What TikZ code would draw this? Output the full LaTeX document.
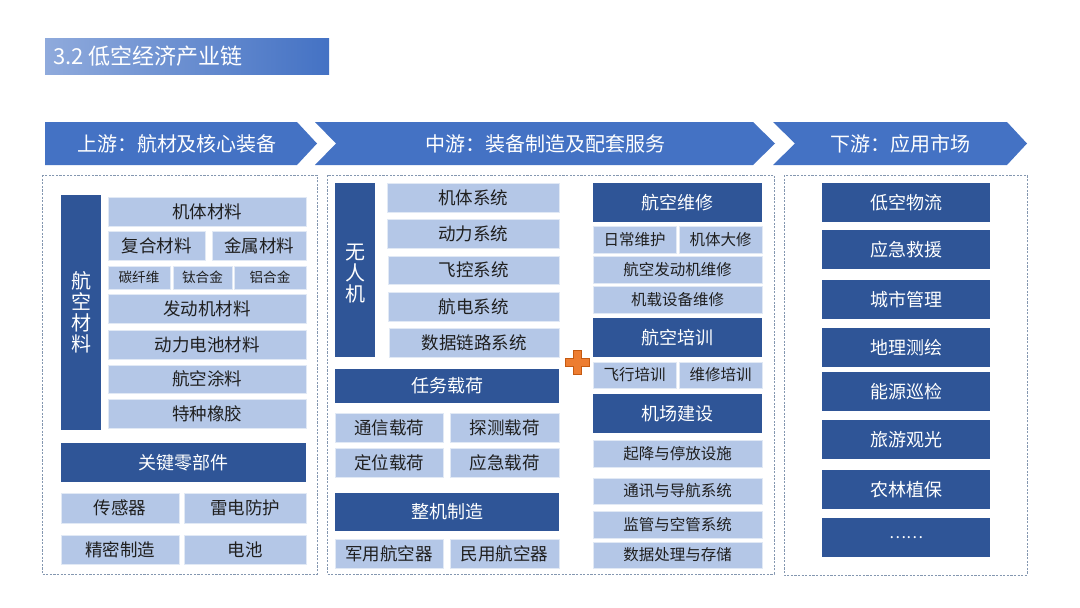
\documentclass[tikz,border=0pt]{standalone}
\usepackage{fontspec}
\setmainfont{Noto Sans CJK SC}
\definecolor{chev}{HTML}{4472C4}
\definecolor{dk}{HTML}{2F5597}
\definecolor{lt}{HTML}{B4C7E7}
\definecolor{dashc}{HTML}{8497B0}
\definecolor{org}{HTML}{ED7D31}
\definecolor{orgd}{HTML}{C55A11}
\definecolor{tl}{HTML}{8FAADC}
\definecolor{tr}{HTML}{4472C4}
\newcommand\bx[7]{\node[#6, minimum width={#4-#2}, minimum height={#5-#3}] (#1) at ({(#2+#4)/2},{(#3+#5)/2}) {#7};}
\tikzset{
  basebox/.style={inner sep=0pt, outer sep=0pt, rectangle},
  dkbox/.style={basebox, fill=dk, text=white, font=\fontsize{18}{20}\selectfont},
  ltbox/.style={basebox, fill=lt, draw=white!60!lt, line width=0.6pt, text=black!88, font=\fontsize{17.5}{20}\selectfont},
  ltsm/.style={ltbox, font=\fontsize{15.5}{18}\selectfont},
  ltxs/.style={ltbox, font=\fontsize{13.6}{16}\selectfont},
  chevshape/.style={fill=chev},
  chevtext/.style={text=white, font=\fontsize{20}{22}\selectfont, inner sep=0pt},
  dashbox/.style={draw=dashc, line width=0.8pt, dash pattern=on 2.2pt off 1.4pt},
  vtext/.style={text=white, align=center, inner sep=0pt, font=\fontsize{20}{21}\selectfont},
}
\begin{document}
\begin{tikzpicture}[x=1pt,y=-1pt]
\useasboundingbox[fill=white] (0,0) rectangle (1080,608);

% title
\shade[left color=tl, right color=tr] (45,38) rectangle (329,74);
\node[anchor=west, text=white, inner sep=0pt, font=\fontsize{22}{24}\selectfont] (title) at (53,56) {3.2 低空经济产业链};

% chevrons
\fill[chevshape] (45,122) -- (297,122) -- (317,143.5) -- (297,165) -- (45,165) -- cycle;
\fill[chevshape] (315,122) -- (753,122) -- (775,143.5) -- (753,165) -- (315,165) -- (336,143.5) -- cycle;
\fill[chevshape] (773,122) -- (1007,122) -- (1027,143.5) -- (1007,165) -- (773,165) -- (795,143.5) -- cycle;
\node[chevtext] (up) at (177,143.5) {上游：航材及核心装备};
\node[chevtext] (mid) at (545,143.5) {中游：装备制造及配套服务};
\node[chevtext] (down) at (900,143.5) {下游：应用市场};

% dashed frames
\draw[dashbox] (42,175) rectangle (317,574);
\draw[dashbox] (327,175) rectangle (774,574);
\draw[dashbox] (784,175) rectangle (1027,575);

% ---------- upstream ----------
\bx{hkcl}{61}{195}{101}{430}{basebox, fill=dk}{}
\node[vtext] (hkcltext) at (81,312.5) {航\\空\\材\\料};
\bx{jtcl}{108}{197}{306}{226}{ltbox}{机体材料}
\bx{fhcl}{108}{231}{205}{260}{ltbox}{复合材料}
\bx{jscl}{212}{231}{306}{260}{ltbox}{金属材料}
\bx{txw}{108}{266}{170}{289}{ltxs}{碳纤维}
\bx{thj}{173}{266}{232}{289}{ltxs}{钛合金}
\bx{lhj}{234}{266}{306}{289}{ltxs}{铝合金}
\bx{fdjcl}{108}{294}{306}{323}{ltbox}{发动机材料}
\bx{dldc}{108}{330}{306}{359}{ltbox}{动力电池材料}
\bx{hktl}{108}{365}{306}{393}{ltbox}{航空涂料}
\bx{tzxj}{108}{399}{306}{428}{ltbox}{特种橡胶}
\bx{gjlbj}{61}{443}{306}{482}{dkbox}{关键零部件}
\bx{cgq}{61}{493}{179}{523}{ltbox}{传感器}
\bx{ldfh}{184}{493}{306}{523}{ltbox}{雷电防护}
\bx{jmzz}{61}{535}{179}{564}{ltbox}{精密制造}
\bx{dc}{184}{535}{306}{564}{ltbox}{电池}

% ---------- midstream left ----------
\bx{wrj}{335}{183}{375}{357}{basebox, fill=dk}{}
\node[vtext] (wrjtext) at (355,274) {无\\人\\机};
\bx{jtxt}{387}{183}{559}{212}{ltbox}{机体系统}
\bx{dlxt}{387}{219}{559}{248}{ltbox}{动力系统}
\bx{fkxt}{388}{256}{559}{284}{ltbox}{飞控系统}
\bx{hdxt}{388}{292}{559}{321}{ltbox}{航电系统}
\bx{sjll}{389}{328}{559}{357}{ltbox}{数据链路系统}
\bx{rwzh}{335}{369}{559}{403}{dkbox}{任务载荷}
\bx{txzh}{335}{413}{443}{442}{ltbox}{通信载荷}
\bx{tczh}{450}{413}{559}{442}{ltbox}{探测载荷}
\bx{dwzh}{335}{448}{443}{477}{ltbox}{定位载荷}
\bx{yjzh}{450}{448}{559}{477}{ltbox}{应急载荷}
\bx{zjzz}{335}{493}{559}{531}{dkbox}{整机制造}
\bx{jyhk}{335}{539}{443}{568}{ltbox}{军用航空器}
\bx{myhk}{450}{539}{559}{568}{ltbox}{民用航空器}

% plus sign
\filldraw[fill=org, draw=orgd, line width=0.6pt]
  (573,350) -- (581,350) -- (581,358) -- (589,358) -- (589,366) -- (581,366) -- (581,374)
  -- (573,374) -- (573,366) -- (565,366) -- (565,358) -- (573,358) -- cycle;

% ---------- midstream right ----------
\bx{hkwx}{593}{183}{762}{222}{dkbox}{航空维修}
\bx{rcwh}{593}{226}{676}{253}{ltsm}{日常维护}
\bx{jtdx}{679}{226}{762}{253}{ltsm}{机体大修}
\bx{fdjwx}{593}{256}{762}{283}{ltsm}{航空发动机维修}
\bx{jzsb}{593}{286}{762}{313}{ltsm}{机载设备维修}
\bx{hkpx}{593}{318}{762}{357}{dkbox}{航空培训}
\bx{fxpx}{593}{362}{676}{388}{ltsm}{飞行培训}
\bx{wxpx}{679}{362}{762}{388}{ltsm}{维修培训}
\bx{jcjs}{593}{394}{762}{433}{dkbox}{机场建设}
\bx{qjtf}{593}{440}{762}{467}{ltsm}{起降与停放设施}
\bx{txdh}{593}{478}{762}{504}{ltsm}{通讯与导航系统}
\bx{jgkg}{593}{511}{762}{538}{ltsm}{监管与空管系统}
\bx{sjcl}{593}{542}{762}{568}{ltsm}{数据处理与存储}

% ---------- downstream ----------
\bx{dkwl}{822}{183}{990}{222}{dkbox}{低空物流}
\bx{yjjy}{822}{230}{990}{269}{dkbox}{应急救援}
\bx{csgl}{822}{280}{990}{319}{dkbox}{城市管理}
\bx{dlch}{822}{328}{990}{367}{dkbox}{地理测绘}
\bx{nyxj}{822}{372}{990}{411}{dkbox}{能源巡检}
\bx{lygg}{822}{420}{990}{459}{dkbox}{旅游观光}
\bx{nlzb}{822}{470}{990}{509}{dkbox}{农林植保}
\bx{more}{822}{518}{990}{557}{dkbox, font=\fontsize{16}{18}\selectfont}{……}
\end{tikzpicture}
\end{document}
